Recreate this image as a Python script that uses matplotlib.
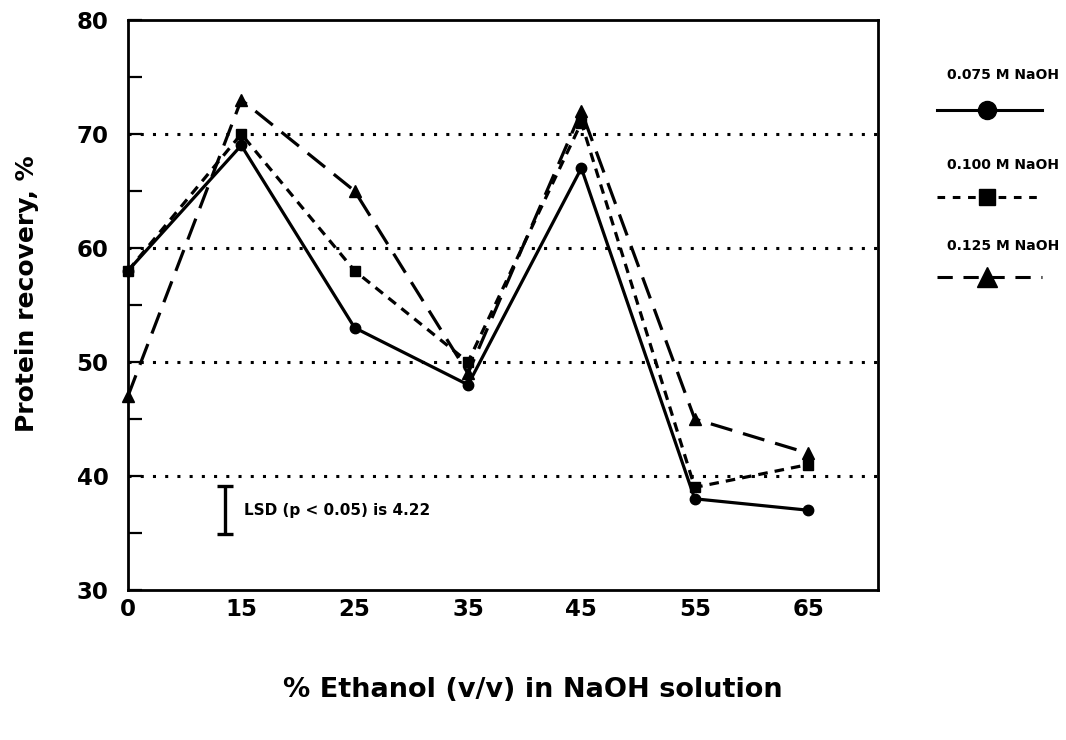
import numpy as np
import matplotlib
matplotlib.use("Agg")
import matplotlib.pyplot as plt
from matplotlib.lines import Line2D

plt.rcParams['font.family'] = ['DejaVu Sans']
plt.rcParams['font.weight'] = 'bold'

# data
ethanol = ['0', '15', '25', '35', '45', '55', '65']
naoh_075 = [58, 69, 53, 48, 67, 38, 37]
naoh_100 = [58, 70, 58, 50, 71, 39, 41]
naoh_125 = [47, 73, 65, 49, 72, 45, 42]
labels = ['0.075 M NaOH', '0.100 M NaOH', '0.125 M NaOH']
lsd = 4.22

fig = plt.figure(figsize=(10.66, 7.4), dpi=100)
ax = fig.add_axes([0.12, 0.2027, 0.704, 0.7703])

x = np.arange(len(ethanol))
styles = [
    dict(marker='o', ls='-', ms=7.5),
    dict(marker='s', ls=(0, (3, 2.2)), ms=7),
    dict(marker='^', ls=(0, (7, 3.5)), ms=9),
]
series = [naoh_075, naoh_100, naoh_125]
for vals, st in zip(series, styles):
    ax.plot(x, vals, color='black', lw=2.3, clip_on=False, zorder=3, **st)

# dotted reference lines
for yv in [40, 50, 60, 70]:
    ax.axhline(yv, color='black', ls=(0, (1, 3)), lw=2.2, zorder=1)

ax.set_xlim(0, 6.62)
ax.set_ylim(30, 80)
ax.set_xticks(x)
ax.set_xticklabels(ethanol)
ax.set_yticks([30, 40, 50, 60, 70, 80])
ax.set_yticks(np.arange(35, 80, 10), minor=True)
ax.tick_params(axis='x', length=0, pad=6, labelsize=16.5)
ax.tick_params(axis='y', which='both', direction='in', length=10, width=1.6,
               labelsize=16.5, pad=14)
for sp in ax.spines.values():
    sp.set_linewidth(2)

ax.set_ylabel('Protein recovery, %', fontsize=18, fontweight='bold')
ax.yaxis.set_label_coords(-0.118, 0.52)
fig.text(0.5, 0.068, '% Ethanol (v/v) in NaOH solution', ha='center',
         va='center', fontsize=19.5, fontweight='bold')

# LSD bar
lx, ly = 0.86, 37
ax.errorbar([lx], [ly], yerr=lsd / 2, color='black', capsize=6, elinewidth=2.4,
            capthick=2.4, zorder=3)
ax.text(lx + 0.16, ly, 'LSD (p < 0.05) is 4.22', va='center', ha='left',
        fontsize=11, fontweight='bold')

# legend area
lax = fig.add_axes([0.86, 0.5, 0.14, 0.5])
lax.set_xlim(0, 1)
lax.set_ylim(0, 1)
lax.axis('off')
text_y = [0.797, 0.554, 0.335]
mark_y = [0.703, 0.468, 0.251]
leg_ls = ['-', (0, (2.5, 2.5)), (0, (5, 3.5))]
leg_ms = [13, 11, 14]
for lab, st, ty, my, ls, ms in zip(labels, styles, text_y, mark_y, leg_ls, leg_ms):
    lax.text(0.58, ty, lab, ha='center', va='center', fontsize=10,
             fontweight='bold')
    lax.add_line(Line2D([0.135, 0.84], [my, my], color='black', lw=2.2, ls=ls))
    lax.add_line(Line2D([0.47], [my], color='black', marker=st['marker'],
                        ms=ms, ls='none'))

fig.savefig('out.png', dpi=100)
